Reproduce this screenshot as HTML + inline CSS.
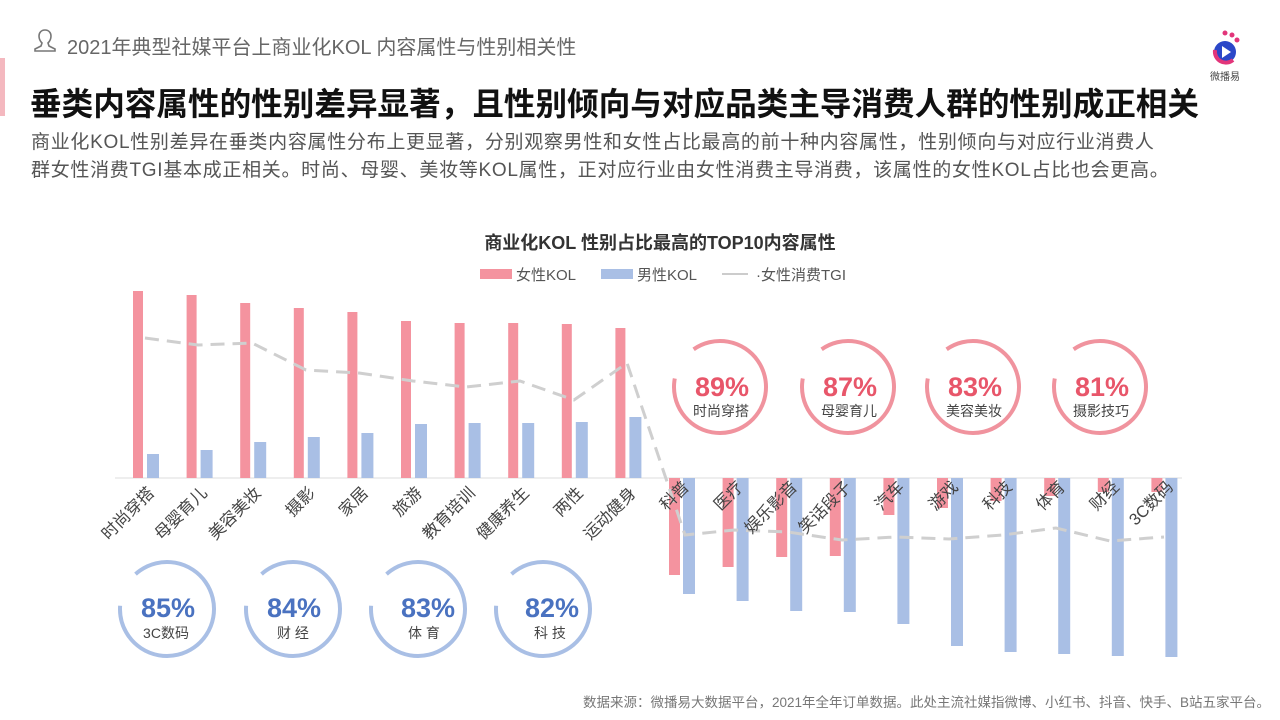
<!DOCTYPE html>
<html><head><meta charset="utf-8"><style>
body{margin:0;width:1280px;height:720px;background:#fff;overflow:hidden;font-family:"Liberation Sans","Noto Sans CJK SC",sans-serif;position:relative}
.t{position:absolute;white-space:nowrap}
</style></head><body>
<div style="position:absolute;left:0;top:58px;width:5px;height:58px;background:#f4b8bf"></div>
<svg class="t" style="left:33px;top:27px" width="24" height="26" viewBox="0 0 24 26"><path d="M12 3c-4 0-6 3-6 6s1 5 3 7l-1 3-6 3v2h20v-2l-6-3-1-3c2-2 3-4 3-7s-2-6-6-6z" fill="none" stroke="#777" stroke-width="1.6"/></svg>
<div class="t" style="left:67px;top:31px;font-size:20px;color:#666">2021年典型社媒平台上商业化KOL 内容属性与性别相关性</div>
<div class="t" style="left:30px;top:79px;font-size:31.6px;font-weight:bold;color:#111">垂类内容属性的性别差异显著，且性别倾向与对应品类主导消费人群的性别成正相关</div>
<div class="t" style="left:31px;top:129px;font-size:19px;letter-spacing:0.7px;color:#555;line-height:28px">商业化KOL性别差异在垂类内容属性分布上更显著，分别观察男性和女性占比最高的前十种内容属性，性别倾向与对应行业消费人<br>群女性消费TGI基本成正相关。时尚、母婴、美妆等KOL属性，正对应行业由女性消费主导消费，该属性的女性KOL占比也会更高。</div>
<svg class="t" style="left:1205px;top:28px" width="50" height="56" viewBox="0 0 50 56">
<circle cx="20" cy="5" r="2.5" fill="#e2357a"/><circle cx="27" cy="7" r="2.5" fill="#e2357a"/><circle cx="32" cy="12" r="2.5" fill="#e2357a"/>
<circle cx="20" cy="24" r="11" fill="#2b47c8"/><path d="M10 22a11 11 0 0 0 18 10" fill="none" stroke="#e2357a" stroke-width="4"/>
<path d="M17 18l9 6-9 6z" fill="#fff"/>
<text x="20" y="52" font-size="10" text-anchor="middle" fill="#444">微播易</text></svg>
<div class="t" style="left:0;width:1320px;top:229px;text-align:center;font-size:18px;font-weight:bold;color:#333">商业化KOL 性别占比最高的TOP10内容属性</div>
<svg class="t" style="left:0;top:0" width="1280" height="720">
<g font-size="15" fill="#555">
<rect x="480" y="269" width="32" height="10" fill="#f4939f"/><text x="516" y="280">女性KOL</text>
<rect x="601" y="269" width="32" height="10" fill="#a9bfe5"/><text x="637" y="280">男性KOL</text>
<line x1="722" y1="274" x2="748" y2="274" stroke="#ccc" stroke-width="2"/><text x="756" y="280">·女性消费TGI</text>
</g>
<line x1="115" y1="478" x2="1182" y2="478" stroke="#ddd" stroke-width="1"/>
<g fill="#f4939f">
<rect x="133" y="291" width="10" height="187"/><rect x="186.6" y="295" width="10" height="183"/><rect x="240.2" y="303" width="10" height="175"/><rect x="293.8" y="308" width="10" height="170"/><rect x="347.4" y="312" width="10" height="166"/><rect x="401" y="321" width="10" height="157"/><rect x="454.6" y="323" width="10" height="155"/><rect x="508.2" y="323" width="10" height="155"/><rect x="561.8" y="324" width="10" height="154"/><rect x="615.4" y="328" width="10" height="150"/>
<rect x="669" y="478" width="11" height="97"/><rect x="722.6" y="478" width="11" height="89"/><rect x="776.2" y="478" width="11" height="79"/><rect x="829.8" y="478" width="11" height="78"/><rect x="883.4" y="478" width="11" height="37"/><rect x="937" y="478" width="11" height="30"/><rect x="990.6" y="478" width="11" height="23"/><rect x="1044.2" y="478" width="11" height="18"/><rect x="1097.8" y="478" width="11" height="14"/><rect x="1151.4" y="478" width="11" height="14"/>
</g>
<g fill="#a9bfe5">
<rect x="147" y="454" width="12" height="24"/><rect x="200.6" y="450" width="12" height="28"/><rect x="254.2" y="442" width="12" height="36"/><rect x="307.8" y="437" width="12" height="41"/><rect x="361.4" y="433" width="12" height="45"/><rect x="415" y="424" width="12" height="54"/><rect x="468.6" y="423" width="12" height="55"/><rect x="522.2" y="423" width="12" height="55"/><rect x="575.8" y="422" width="12" height="56"/><rect x="629.4" y="417" width="12" height="61"/>
<rect x="683" y="478" width="12" height="116"/><rect x="736.6" y="478" width="12" height="123"/><rect x="790.2" y="478" width="12" height="133"/><rect x="843.8" y="478" width="12" height="134"/><rect x="897.4" y="478" width="12" height="146"/><rect x="951" y="478" width="12" height="168"/><rect x="1004.6" y="478" width="12" height="174"/><rect x="1058.2" y="478" width="12" height="176"/><rect x="1111.8" y="478" width="12" height="178"/><rect x="1165.4" y="478" width="12" height="179"/>
</g>
<polyline points="145,338 198,345 252,343 306,370 359,373 413,381 466,387 520,381 574,400 627,363 685,535 734,530 788,532 842,540 895,537 949,539 1003,535 1056,528 1110,541 1164,537" fill="none" stroke="#cfcfcf" stroke-width="3" stroke-dasharray="14,8"/>
<g font-size="16.5" fill="#444" text-anchor="end">
<text transform="translate(155,494) rotate(-45)">时尚穿搭</text>
<text transform="translate(208,494) rotate(-45)">母婴育儿</text>
<text transform="translate(262,494) rotate(-45)">美容美妆</text>
<text transform="translate(316,494) rotate(-45)">摄影</text>
<text transform="translate(369,494) rotate(-45)">家居</text>
<text transform="translate(423,494) rotate(-45)">旅游</text>
<text transform="translate(476,494) rotate(-45)">教育培训</text>
<text transform="translate(530,494) rotate(-45)">健康养生</text>
<text transform="translate(584,494) rotate(-45)">两性</text>
<text transform="translate(637,494) rotate(-45)">运动健身</text>
<text transform="translate(690,488) rotate(-45)">科普</text>
<text transform="translate(744,488) rotate(-45)">医疗</text>
<text transform="translate(798,488) rotate(-45)">娱乐影音</text>
<text transform="translate(852,488) rotate(-45)">笑话段子</text>
<text transform="translate(905,488) rotate(-45)">汽车</text>
<text transform="translate(959,488) rotate(-45)">游戏</text>
<text transform="translate(1013,488) rotate(-45)">科技</text>
<text transform="translate(1066,488) rotate(-45)">体育</text>
<text transform="translate(1120,488) rotate(-45)">财经</text>
<text transform="translate(1174,488) rotate(-45)">3C数码</text>
</g>
<g fill="none" stroke="#f0939e" stroke-width="4" stroke-dasharray="253 36">
<circle cx="720" cy="387" r="46" transform="rotate(235 720 387)"/>
<circle cx="848" cy="387" r="46" transform="rotate(235 848 387)"/>
<circle cx="973" cy="387" r="46" transform="rotate(235 973 387)"/>
<circle cx="1100" cy="387" r="46" transform="rotate(235 1100 387)"/>
</g>
<g text-anchor="middle">
<g font-size="27" font-weight="bold" fill="#e8566a"><text x="722" y="396">89%</text><text x="850" y="396">87%</text><text x="975" y="396">83%</text><text x="1102" y="396">81%</text></g>
<g font-size="14" fill="#444"><text x="721" y="416">时尚穿搭</text><text x="849" y="416">母婴育儿</text><text x="974" y="416">美容美妆</text><text x="1101" y="416">摄影技巧</text></g>
</g>
<g fill="none" stroke="#a9bfe5" stroke-width="4" stroke-dasharray="253 36">
<circle cx="167" cy="609" r="47" transform="rotate(235 167 609)"/>
<circle cx="293" cy="609" r="47" transform="rotate(235 293 609)"/>
<circle cx="418" cy="609" r="47" transform="rotate(235 418 609)"/>
<circle cx="543" cy="609" r="47" transform="rotate(235 543 609)"/>
</g>
<g text-anchor="middle">
<g font-size="27" font-weight="bold" fill="#4a72c0"><text x="168" y="617">85%</text><text x="294" y="617">84%</text><text x="428" y="617">83%</text><text x="552" y="617">82%</text></g>
<g font-size="14" fill="#444"><text x="166" y="638">3C数码</text><text x="293" y="638">财 经</text><text x="424" y="638">体 育</text><text x="550" y="638">科 技</text></g>
</g>
<text x="1270" y="707" font-size="13.5" fill="#777" text-anchor="end">数据来源：微播易大数据平台，2021年全年订单数据。此处主流社媒指微博、小红书、抖音、快手、B站五家平台。</text>
</svg>
</body></html>
